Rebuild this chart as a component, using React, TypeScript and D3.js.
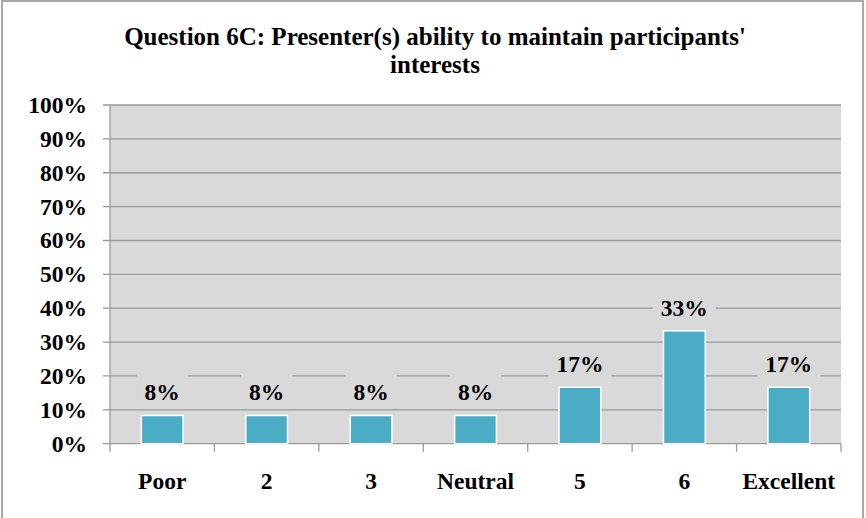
import React from "react";
import * as d3 from "d3";

const categories = ["Poor", "2", "3", "Neutral", "5", "6", "Excellent"];
const values = [8.33, 8.33, 8.33, 8.33, 16.67, 33.33, 16.67];
const labels = ["8%", "8%", "8%", "8%", "17%", "33%", "17%"];
const yTicks = [0, 10, 20, 30, 40, 50, 60, 70, 80, 90, 100];
const titleLines = ["Question 6C: Presenter(s) ability to maintain participants'", "interests"];

const W = 866;
const H = 518;
const plot = { left: 110, right: 841, top: 105, bottom: 443.7 };
const FONT = "'Liberation Serif', 'Times New Roman', serif";
const FS = 23.5;

function labelWidth(s: string) {
  let w = 0;
  for (const ch of s) w += ch === "%" ? 1 : 0.5;
  return w * FS;
}

export default function App() {
  const x = d3
    .scaleBand<string>()
    .domain(categories)
    .range([plot.left, plot.right])
    .paddingInner(0.6)
    .paddingOuter(0.3);
  const step = x.step();
  const y = d3.scaleLinear().domain([0, 100]).range([plot.bottom, plot.top]);

  return (
    <div style={{ position: "absolute", left: 0, top: 0 }}>
      <svg width={W} height={H} style={{ display: "block", background: "#fff" }}>
        <rect x={2} y={1} width={861} height={540} fill="#fff" stroke="#8c8c8c" strokeWidth={1.5} />
        {titleLines.map((t, i) => (
          <text
            key={i}
            x={435}
            y={45 + i * 28}
            textAnchor="middle"
            fontFamily={FONT}
            fontWeight="bold"
            fontSize={25}
            fill="#000"
          >
            {t}
          </text>
        ))}
        <rect x={plot.left} y={plot.top} width={plot.right - plot.left} height={plot.bottom - plot.top} fill="#d9d9d9" />
        {yTicks.map((v) => (
          <g key={v}>
            <line x1={103} x2={plot.right} y1={y(v)} y2={y(v)} stroke="#9a9a9a" strokeWidth={1.3} />
            <text
              x={87}
              y={y(v) + 8}
              textAnchor="end"
              fontFamily={FONT}
              fontWeight="bold"
              fontSize={FS}
              fill="#000"
            >
              {v}%
            </text>
          </g>
        ))}
        <line x1={plot.left} x2={plot.left} y1={plot.top} y2={plot.bottom} stroke="#9a9a9a" strokeWidth={1.3} />
        {d3.range(categories.length + 1).map((i) => {
          const xx = plot.left + i * step;
          return <line key={i} x1={xx} x2={xx} y1={plot.bottom} y2={plot.bottom + 8} stroke="#9a9a9a" strokeWidth={1.3} />;
        })}
        {categories.map((c, i) => {
          const bx = x(c) as number;
          const bw = x.bandwidth();
          const top = y(values[i]);
          const cx = bx + bw / 2;
          const ly = top - 23;
          const tw = labelWidth(labels[i]) + 16;
          return (
            <g key={c}>
              <rect x={bx} y={top} width={bw} height={plot.bottom - top} fill="#4bacc6" stroke="#fff" strokeWidth={1.5} />
              <rect x={cx - tw / 2} y={ly - 19} width={tw} height={34} fill="#d9d9d9" />
              <text
                x={cx}
                y={ly + 8}
                textAnchor="middle"
                fontFamily={FONT}
                fontWeight="bold"
                fontSize={FS}
                fill="#000"
              >
                {labels[i]}
              </text>
              <text
                x={plot.left + (i + 0.5) * step}
                y={489}
                textAnchor="middle"
                fontFamily={FONT}
                fontWeight="bold"
                fontSize={FS}
                fill="#000"
              >
                {c}
              </text>
            </g>
          );
        })}
      </svg>
    </div>
  );
}
